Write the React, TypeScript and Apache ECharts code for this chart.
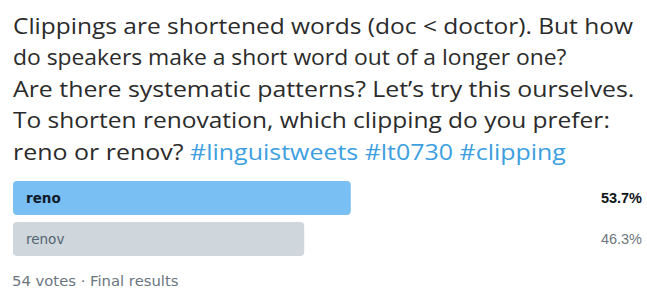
import React, { useEffect, useRef } from "react";
import * as echarts from "echarts";

const tweetLines = [
  "Clippings are shortened words (doc < doctor). But how",
  "do speakers make a short word out of a longer one?",
  "Are there systematic patterns? Let\u2019s try this ourselves.",
  "To shorten renovation, which clipping do you prefer:",
];
const lastLineText = "reno or renov? ";
const hashtags = "#linguistweets #lt0730 #clipping";
const choices = ["reno", "renov"];
const percents = [53.7, 46.3];
const footer = "54 votes \u00b7 Final results";

const FONT = "'Open Sans', 'Noto Sans', sans-serif";
const SMALL = "'Liberation Sans', Arial, sans-serif";
const WIDE = "'DejaVu Sans', Verdana, sans-serif";
// horizontal stretch per tweet line, to match the original's wider typeface
const lineStretch = [1.089, 1.016, 1.105, 1.09, 1.11];

export default function App() {
  const ref = useRef<HTMLDivElement>(null);
  useEffect(() => {
    if (!ref.current) return;
    const chart = echarts.init(ref.current, undefined, { renderer: "svg" });
    const winner = percents.indexOf(Math.max(...percents));
    const allLines = [...tweetLines.map((l) => `{t|${l}}`), `{t|${lastLineText}}{h|${hashtags}}`];
    const textEls = allLines.map((l, i) => ({
      type: "text",
      x: 13,
      y: 25 + 31.5 * i,
      scaleX: lineStretch[i],
      silent: true,
      style: {
        text: l,
        x: 0,
        y: 0,
        verticalAlign: "middle",
        align: "left",
        rich: {
          t: { fontFamily: FONT, fontSize: 22.5, fontWeight: "normal", fill: "#2b2b2b", color: "#2b2b2b" },
          h: { fontFamily: FONT, fontSize: 22.5, fontWeight: "normal", fill: "#3d9fe0", color: "#3d9fe0" },
        },
      },
    }));
    chart.setOption({
      animation: false,
      backgroundColor: "#ffffff",
      graphic: textEls,
      title: [
        {
          text: footer,
          left: 7,
          top: 268,
          textStyle: { fontFamily: WIDE, fontSize: 14.8, color: "#6b7680", fontWeight: "normal" },
        },
      ],
      grid: { left: 13, right: 5, top: 177.5, bottom: 289 - 259.5, containLabel: false },
      xAxis: { type: "value", min: 0, max: 100, show: false },
      yAxis: { type: "category", data: choices, inverse: true, show: false },
      series: [
        {
          type: "bar",
          barWidth: 34,
          barGap: "-100%",
          silent: true,
          data: percents.map((v, i) => ({
            value: 100,
            label: {
              color: i === winner ? "#0f1419" : "#6e767d",
              fontWeight: i === winner ? "bold" : "normal",
            },
          })),
          itemStyle: { color: "rgba(0,0,0,0)" },
          label: {
            show: true,
            position: "insideRight",
            distance: 0,
            formatter: (p: any) => `${percents[p.dataIndex].toFixed(1)}%`,
            fontFamily: SMALL,
            fontSize: 14.5,
          },
          z: 1,
        },
        {
          type: "bar",
          barWidth: 34,
          data: percents.map((v, i) => ({
            value: v,
            itemStyle: { color: i === winner ? "#79bff3" : "#cfd6dc", borderRadius: 4 },
            label: {
              color: i === winner ? "#0f1a2a" : "#536471",
              fontWeight: i === winner ? "bold" : "normal",
            },
          })),
          label: {
            show: true,
            position: "insideLeft",
            distance: 13,
            formatter: (p: any) => choices[p.dataIndex],
            fontFamily: WIDE,
            fontSize: 13.5,
          },
          z: 2,
        },
      ],
    });
    return () => chart.dispose();
  }, []);
  return <div ref={ref} style={{ width: 647, height: 289, position: "absolute", left: 0, top: 0 }} />;
}
